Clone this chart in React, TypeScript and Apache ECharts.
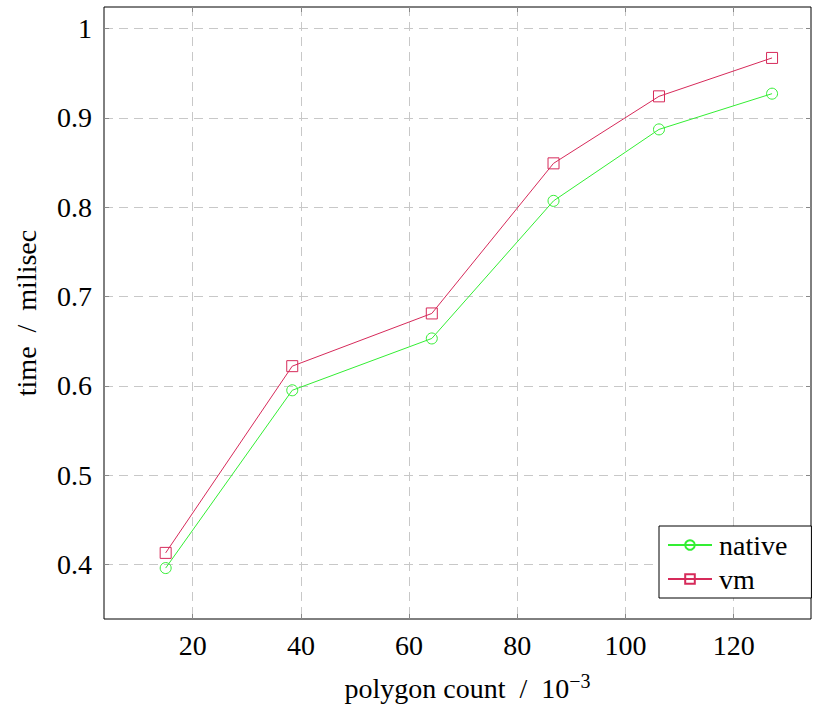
import React, { useEffect, useRef } from "react";
import * as echarts from "echarts";

const polygonCount = [15, 38.4, 64.2, 86.7, 106.2, 127.1];
const nativeTimes = [0.396, 0.595, 0.653, 0.807, 0.887, 0.927];
const vmTimes = [0.413, 0.622, 0.681, 0.849, 0.924, 0.967];
const xTicks = [20, 40, 60, 80, 100, 120];
const yTicks = [0.4, 0.5, 0.6, 0.7, 0.8, 0.9, 1];

const FONT = "Liberation Serif";
const GREEN = "#33ee33";
const CRIMSON = "#d62a5a";
const FS = 28;

export default function App() {
  const ref = useRef<HTMLDivElement>(null);
  useEffect(() => {
    if (!ref.current) return;
    const chart = echarts.init(ref.current, undefined, { renderer: "svg" });
    const xMin = 3.6;
    const xMax = 134.3;
    const yMin = 0.339;
    const yMax = 1.024;
    const tickStyle = {
      show: true,
      inside: true,
      length: 5,
      lineStyle: { color: "#888", width: 1 },
    };
    const splitStyle = {
      show: true,
      lineStyle: { color: "#c8c8c8", width: 1, type: [9, 6] as any },
    };
    const xAxisBase = {
      type: "value" as const,
      min: xMin,
      max: xMax,
      axisLine: { show: false },
    };
    const yAxisBase = {
      type: "value" as const,
      min: yMin,
      max: yMax,
      axisLine: { show: false },
    };
    chart.setOption({
      animation: false,
      grid: {
        left: 104,
        top: 7,
        right: 11,
        bottom: 88,
        outerBoundsMode: "none",
        containLabel: false,
        show: true,
        borderColor: "#000",
        borderWidth: 1,
        backgroundColor: "transparent",
      },
      xAxis: [
        {
          ...xAxisBase,
          position: "bottom",
          axisTick: { ...tickStyle, customValues: xTicks },
          axisLabel: {
            customValues: xTicks,
            fontFamily: FONT,
            fontSize: FS,
            color: "#000",
            margin: 12,
          },
          splitLine: splitStyle,
          name: "polygon count  /  10{sup|−3}",
          nameLocation: "middle",
          nameGap: 52,
          nameTextStyle: {
            fontFamily: FONT,
            fontSize: FS,
            color: "#000",
            padding: [0, 0, 0, 20],
            rich: {
              sup: {
                fontFamily: FONT,
                fontSize: 20,
                color: "#000",
                verticalAlign: "top",
                padding: [0, 0, 14, 0],
              },
            },
          },
        },
        {
          ...xAxisBase,
          position: "top",
          axisTick: { ...tickStyle, customValues: xTicks },
          axisLabel: { show: false, customValues: xTicks },
          splitLine: { show: false },
        },
      ],
      yAxis: [
        {
          ...yAxisBase,
          position: "left",
          axisTick: { ...tickStyle, customValues: yTicks },
          axisLabel: {
            customValues: yTicks,
            fontFamily: FONT,
            fontSize: FS,
            color: "#000",
            margin: 12,
            formatter: (v: number) => String(Math.round(v * 10) / 10),
          },
          splitLine: { ...splitStyle },
          name: "time  /  milisec",
          nameLocation: "middle",
          nameGap: 64,
          nameTextStyle: { fontFamily: FONT, fontSize: FS, color: "#000" },
        },
        {
          ...yAxisBase,
          position: "right",
          axisTick: { ...tickStyle, customValues: yTicks },
          axisLabel: { show: false, customValues: yTicks },
          splitLine: { show: false },
        },
      ],
      legend: {
        orient: "vertical",
        left: 659,
        top: 526,
        backgroundColor: "#fff",
        borderColor: "#000",
        borderWidth: 1,
        borderRadius: 0,
        padding: [5, 24, 5, 8],
        itemGap: 6,
        itemWidth: 44,
        itemHeight: 12,
        textStyle: { fontFamily: FONT, fontSize: FS, color: "#000", padding: [0, 0, 0, 2] },
        data: ["native", "vm"],
      },
      series: [
        {
          name: "native",
          type: "line",
          data: polygonCount.map((x, i) => [x, nativeTimes[i]]),
          symbol: "circle",
          symbolSize: 11,
          lineStyle: { color: GREEN, width: 1 },
          itemStyle: { color: "rgba(255,255,255,0)", borderColor: GREEN, borderWidth: 1 },
          emphasis: { disabled: true },
        },
        {
          name: "vm",
          type: "line",
          data: polygonCount.map((x, i) => [x, vmTimes[i]]),
          symbol: "rect",
          symbolSize: 11,
          lineStyle: { color: CRIMSON, width: 1 },
          itemStyle: { color: "rgba(255,255,255,0)", borderColor: CRIMSON, borderWidth: 1 },
          emphasis: { disabled: true },
        },
      ],
    });
    return () => chart.dispose();
  }, []);
  return (
    <div
      ref={ref}
      style={{ position: "absolute", left: 0, top: 0, width: 822, height: 707, background: "#fff" }}
    />
  );
}
